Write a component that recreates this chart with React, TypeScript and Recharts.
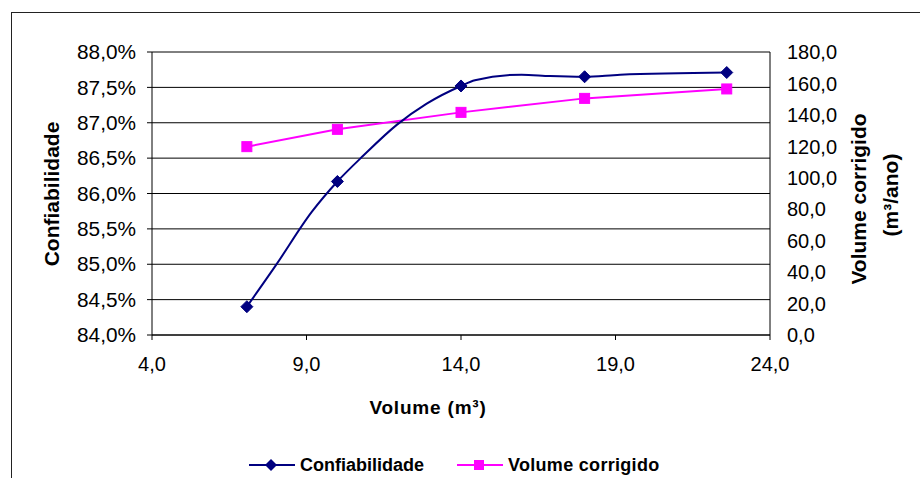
import React from 'react';
import { ComposedChart, Line, XAxis, YAxis, CartesianGrid, Legend, Label } from 'recharts';

// Confiabilidade curve (smoothed line), values in %
const curveVolume = [7.07, 8.0, 9.17, 10.0, 10.85, 11.92, 12.89, 14.0, 14.45, 15.96, 16.88, 18.0, 19.15, 22.6];
const curveConf = [84.4, 84.98, 85.74, 86.17, 86.54, 86.97, 87.27, 87.52, 87.6, 87.68, 87.66, 87.65, 87.68, 87.71];
// Confiabilidade marked points
const markerVolume = [7.07, 10.0, 14.0, 18.0, 22.6];
const markerConf = [84.4, 86.17, 87.52, 87.65, 87.71];
// Volume corrigido (m3/ano)
const corrVolume = [7.07, 10.0, 14.0, 18.0, 22.6];
const corrValues = [119.8, 130.8, 141.6, 150.5, 156.5];
// Axis ticks
const xTicks = [4, 9, 14, 19, 24];
const leftTicks = [84, 84.5, 85, 85.5, 86, 86.5, 87, 87.5, 88];
const rightTicks = [0, 20, 40, 60, 80, 100, 120, 140, 160, 180];

const curveData = curveVolume.map((x, i) => ({ x, conf: curveConf[i] }));
const markerData = markerVolume.map((x, i) => ({ x, conf: markerConf[i] }));
const corrData = corrVolume.map((x, i) => ({ x, vol: corrValues[i] }));

const NAVY = '#000080';
const MAGENTA = '#FF00FF';
const FONT = '"Liberation Sans", Arial, sans-serif';
const TICK_FS = 20;

const fmt1 = (v: number) => v.toFixed(1).replace('.', ',');

const makeTick = (kind: 'x' | 'left' | 'right') => (props: any) => {
  const { x, y, payload } = props;
  const v = payload?.value as number;
  let label = fmt1(v);
  if (kind === 'left') label = `${label}%`;
  const anchor = kind === 'x' ? 'middle' : kind === 'left' ? 'end' : 'start';
  const dy = kind === 'x' ? '0.72em' : '0.36em';
  return (
    <text
      x={x}
      y={y}
      dy={dy}
      textAnchor={anchor}
      style={{ fontFamily: FONT, fontSize: `${TICK_FS}px` }}
      fontSize={TICK_FS}
      fill="#000"
      textLength={kind === 'left' ? 59 : undefined}
      lengthAdjust="spacingAndGlyphs"
    >
      {label}
    </text>
  );
};

const Diamond = (props: any) => {
  const { cx, cy } = props;
  if (cx == null || cy == null) return null;
  const r = 6;
  return (
    <polygon
      points={`${cx},${cy - r} ${cx + r},${cy} ${cx},${cy + r} ${cx - r},${cy}`}
      fill={NAVY}
      stroke={NAVY}
      strokeWidth={1}
    />
  );
};

const Square = (props: any) => {
  const { cx, cy } = props;
  if (cx == null || cy == null) return null;
  const s = 10;
  return <rect x={cx - s / 2} y={cy - s / 2} width={s} height={s} fill={MAGENTA} stroke={MAGENTA} />;
};

const LegendContent = () => (
  <svg width={440} height={30} style={{ display: 'block' }}>
    <line x1={9} x2={55} y1={15} y2={15} stroke={NAVY} strokeWidth={2} />
    <polygon points="31,9 37,15 31,21 25,15" fill={NAVY} />
    <text x={60} y={15} dy="0.35em" fontFamily={FONT} fontWeight="bold" fontSize={18} fill="#000">
      Confiabilidade
    </text>
    <line x1={217} x2={263} y1={15} y2={15} stroke={MAGENTA} strokeWidth={2} />
    <rect x={234} y={10} width={10} height={10} fill={MAGENTA} />
    <text x={268} y={15} dy="0.35em" fontFamily={FONT} fontWeight="bold" fontSize={18} fill="#000" letterSpacing={0.3}>
      Volume corrigido
    </text>
  </svg>
);

export default function App() {
  return (
    <div style={{ position: 'absolute', left: 0, top: 0, width: 920, height: 478, background: '#fff', overflow: 'hidden' }}>
      <div
        style={{
          position: 'absolute',
          left: 11,
          top: 12,
          width: 940,
          height: 500,
          borderLeft: '1px solid #222',
          borderTop: '1px solid #222',
        }}
      />
      <div style={{ position: 'absolute', left: 0, top: 0 }}>
        <ComposedChart
          width={920}
          height={478}
          margin={{ top: 52, right: 50, left: 52, bottom: 83 }}
          style={{ fontFamily: FONT }}
        >
          <CartesianGrid yAxisId="left" vertical={false} stroke="#000" strokeWidth={1} />
          <XAxis
            dataKey="x"
            type="number"
            domain={[4, 24]}
            ticks={xTicks}
            height={60}
            stroke="#000"
            tickSize={5}
            tickMargin={17}
            tick={makeTick('x')}
            allowDataOverflow
          >
            <Label
              content={() => (
                <text x={428} y={407} dy="0.35em" textAnchor="middle" fontFamily={FONT} fontWeight="bold" fontSize={19} letterSpacing={0.8} fill="#000">
                  Volume (m³)
                </text>
              )}
            />
          </XAxis>
          <YAxis
            yAxisId="left"
            orientation="left"
            domain={[84, 88]}
            ticks={leftTicks}
            width={100}
            stroke="#000"
            tickSize={5}
            tickMargin={11}
            tick={makeTick('left')}
            allowDataOverflow
          >
            <Label
              content={() => (
                <text
                  x={52}
                  y={194}
                  dy="0.35em"
                  textAnchor="middle"
                  transform="rotate(-90 52 194)"
                  fontFamily={FONT}
                  fontWeight="bold"
                  fontSize={21}
                  fill="#000"
                >
                  Confiabilidade
                </text>
              )}
            />
          </YAxis>
          <YAxis
            yAxisId="right"
            orientation="right"
            domain={[0, 180]}
            ticks={rightTicks}
            width={100}
            stroke="#000"
            tickLine={false}
            tickSize={5}
            tickMargin={12}
            tick={makeTick('right')}
            allowDataOverflow
          >
            <Label
              content={() => (
                <g>
                  <text
                    x={859}
                    y={199}
                    dy="0.35em"
                    textAnchor="middle"
                    transform="rotate(-90 859 199)"
                    fontFamily={FONT}
                    fontWeight="bold"
                    fontSize={21}
                    fill="#000"
                  >
                    Volume corrigido
                  </text>
                  <text
                    x={891}
                    y={195}
                    dy="0.35em"
                    textAnchor="middle"
                    transform="rotate(-90 891 195)"
                    fontFamily={FONT}
                    fontWeight="bold"
                    fontSize={21}
                    fill="#000"
                  >
                    (m³/ano)
                  </text>
                </g>
              )}
            />
          </YAxis>
          <Line
            yAxisId="right"
            data={corrData}
            dataKey="vol"
            type="linear"
            stroke={MAGENTA}
            strokeWidth={2}
            dot={(p: any) => <Square key={`sq-${p.index}`} {...p} />}
            activeDot={false}
            isAnimationActive={false}
            name="Volume corrigido"
          />
          <Line
            yAxisId="left"
            data={curveData}
            dataKey="conf"
            type="monotone"
            stroke={NAVY}
            strokeWidth={2}
            dot={false}
            activeDot={false}
            isAnimationActive={false}
            name="Confiabilidade"
          />
          <Line
            yAxisId="left"
            data={markerData}
            dataKey="conf"
            type="linear"
            stroke="none"
            dot={(p: any) => <Diamond key={`dm-${p.index}`} {...p} />}
            activeDot={false}
            isAnimationActive={false}
            legendType="none"
          />
          <Legend
            layout="horizontal"
            verticalAlign="middle"
            align="center"
            wrapperStyle={{ left: 240, top: 450, width: 440, height: 30 }}
            content={() => <LegendContent />}
          />
        </ComposedChart>
      </div>
    </div>
  );
}
